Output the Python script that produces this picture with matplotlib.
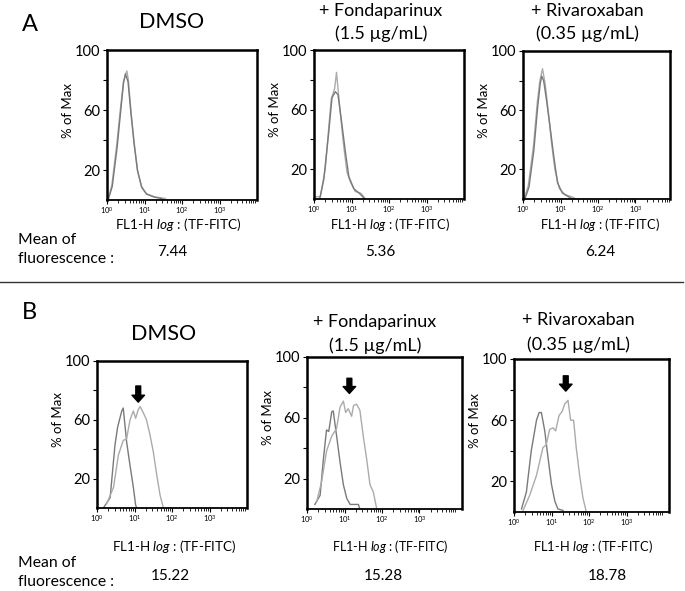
import numpy as np
import matplotlib
matplotlib.use("Agg")
import matplotlib.pyplot as plt
from matplotlib.lines import Line2D
from matplotlib.ticker import LogLocator, NullFormatter

plt.rcParams["font.family"] = ["Lato", "DejaVu Sans"]
plt.rcParams["mathtext.fontset"] = "custom"
plt.rcParams["mathtext.rm"] = "Lato"
plt.rcParams["mathtext.it"] = "Lato:italic"

# ── Data: histogram outlines, x as log10(FL1-H), y as % of Max ───────────────
A_DMSO_X1 = [0.02, 0.13, 0.26, 0.35, 0.44, 0.50, 0.53, 0.57, 0.64, 0.73, 0.82, 0.93, 1.06, 1.29, 1.55, 1.58]
A_DMSO_Y1 = [0, 10, 37, 59, 79, 84, 86, 80, 59, 37, 19, 8, 4, 2, 1, 0]
A_DMSO_X2 = [0.03, 0.14, 0.27, 0.36, 0.44, 0.49, 0.56, 0.63, 0.72, 0.81, 0.92, 1.05, 1.25, 1.45, 1.50]
A_DMSO_Y2 = [0, 9, 35, 58, 78, 84, 79, 60, 38, 20, 9, 4, 2, 1, 0]

A_FONDA_X1 = [0.04, 0.17, 0.30, 0.39, 0.46, 0.55, 0.60, 0.64, 0.70, 0.79, 0.88, 0.97, 1.10, 1.24, 1.33, 1.37]
A_FONDA_Y1 = [1.5, 1.5, 20, 47, 67, 74, 85, 74, 58, 36, 18, 11.5, 5, 4, 1.5, 0]
A_FONDA_X2 = [0.15, 0.26, 0.39, 0.48, 0.57, 0.64, 0.73, 0.84, 0.93, 1.06, 1.20, 1.30, 1.34]
A_FONDA_Y2 = [0, 13, 44, 68, 72, 70, 53, 31, 15, 7, 4, 1.5, 0]

A_RIVA_X1 = [0.03, 0.14, 0.28, 0.38, 0.45, 0.52, 0.59, 0.68, 0.76, 0.85, 0.97, 1.12, 1.35, 1.40]
A_RIVA_Y1 = [0, 9, 36, 65, 80, 88, 78, 58, 38, 20, 7, 3, 1, 0]
A_RIVA_X2 = [0.05, 0.16, 0.29, 0.39, 0.46, 0.50, 0.55, 0.62, 0.71, 0.82, 0.92, 1.05, 1.25, 1.30]
A_RIVA_Y2 = [0, 8, 33, 62, 78, 83, 80, 68, 51, 29, 11, 4, 1, 0]

B_DMSO_X1 = [0.17, 0.35, 0.48, 0.55, 0.66, 0.70, 0.79, 0.88, 0.97, 1.03, 1.06]
B_DMSO_Y1 = [0, 7, 43, 55, 66, 68, 45, 29, 14, 2, 0]
B_DMSO_X2 = [0.26, 0.44, 0.57, 0.70, 0.79, 0.88, 0.97, 1.03, 1.10, 1.15, 1.24, 1.32, 1.41, 1.50, 1.59, 1.68, 1.77]
B_DMSO_Y2 = [3, 14, 36, 46, 47, 60, 66, 61, 67, 69, 64.5, 60, 50, 38.5, 23, 9, 0]

B_FONDA_X1 = [0.21, 0.35, 0.43, 0.52, 0.58, 0.66, 0.70, 0.79, 0.88, 0.97, 1.06, 1.15, 1.37, 1.41]
B_FONDA_Y1 = [3, 9, 31, 52, 51, 64, 64.5, 48, 31, 16, 7, 3, 3, 0]
B_FONDA_X2 = [0.26, 0.39, 0.52, 0.66, 0.79, 0.88, 0.97, 1.03, 1.10, 1.19, 1.24, 1.32, 1.41, 1.50, 1.59, 1.68, 1.77, 1.86]
B_FONDA_Y2 = [5, 18, 38, 48, 53, 67, 71, 63.5, 66, 61, 68, 69, 65, 48, 33, 16, 11, 0]

B_RIVA_X1 = [0.20, 0.33, 0.46, 0.60, 0.67, 0.73, 0.82, 0.91, 1.00, 1.09, 1.17, 1.31]
B_RIVA_Y1 = [2, 13, 40, 60, 65, 65, 53, 35, 18, 7, 2, 1]
B_RIVA_X2 = [0.24, 0.42, 0.60, 0.77, 0.86, 0.95, 1.04, 1.11, 1.20, 1.29, 1.35, 1.44, 1.51, 1.59, 1.66, 1.75, 1.84, 1.93]
B_RIVA_Y2 = [1, 11, 24, 42, 44, 54, 55, 53, 63, 66, 70.5, 73, 60, 60, 42, 24, 9, 0]

# arrows in panel B: log10 position, tip and tail in % of Max
B_ARROW_X = [1.10, 1.13, 1.38]
B_ARROW_TIP = [72, 76, 79]
B_ARROW_TAIL = [83, 86, 89]

TITLES_1 = ["DMSO", "+ Fondaparinux", "+ Rivaroxaban"]
TITLES_2 = ["", "(1.5 µg/mL)", "(0.35 µg/mL)"]
MEANS_A = ["7.44", "5.36", "6.24"]
MEANS_B = ["15.22", "15.28", "18.78"]

Y_TICKS = [20, 40, 60, 80, 100]
Y_TICK_LABELS = ["20", "", "60", "", "100"]
X_TICKS = [1, 10, 100, 1000]
X_TICK_LABELS = [r"$10^{0}$", r"$10^{1}$", r"$10^{2}$", r"$10^{3}$"]

# ── Layout (pixels of a 685x591 canvas) ──────────────────────────────────────
W, H = 685, 591
DARK = "#7a7a7a"
LIGHT = "#ababab"

def fx(x):
    return x / W

def fy(y):
    return 1 - y / H

def draw_hist(box, curves, arrow=None):
    l, t, r, b = box
    ax = fig.add_axes([fx(l), fy(b), (r - l) / W, (b - t) / H])
    for xs, ys, col in curves:
        ax.plot(10 ** np.array(xs), ys, color=col, lw=1.0)
    ax.set_xscale("log")
    ax.set_xlim(1, 10 ** ((r - l) / 37.5))
    ax.set_ylim(0, 100)
    ax.set_yticks(Y_TICKS)
    ax.set_yticklabels(Y_TICK_LABELS)
    ax.set_xticks(X_TICKS)
    ax.set_xticklabels(X_TICK_LABELS)
    ax.xaxis.set_minor_locator(LogLocator(base=10, subs=np.arange(2, 10), numticks=20))
    ax.xaxis.set_minor_formatter(NullFormatter())
    ax.tick_params(axis="y", labelsize=10.5, length=3, width=0.8, pad=2)
    ax.tick_params(axis="x", which="major", labelsize=5.5, length=3, width=0.8, pad=0.8)
    ax.tick_params(axis="x", which="minor", length=2, width=0.6)
    for side in ["top", "right", "left"]:
        ax.spines[side].set_linewidth(1.8)
    ax.spines["bottom"].set_linewidth(1.3)
    ax.set_ylabel("% of Max", fontsize=9.5)
    ax.yaxis.set_label_coords(-33 / (r - l), 0.6)
    if arrow is not None:
        ax_x, tip, tail = arrow
        ax.annotate("", xy=(10 ** ax_x, tip), xytext=(10 ** ax_x, tail),
                    arrowprops=dict(facecolor="black", edgecolor="black",
                                    width=3.5, headwidth=9, headlength=5))
    return ax

fig = plt.figure(figsize=(W / 100, H / 100), dpi=100, facecolor="white")

BOXES_A = [(107, 50, 257, 200), (314, 50, 464, 199), (523, 51, 670, 199)]
BOXES_B = [(97, 361, 247, 508), (307, 357, 462, 509), (514, 359, 669, 512)]

curves_a = [
    [(A_DMSO_X1, A_DMSO_Y1, LIGHT), (A_DMSO_X2, A_DMSO_Y2, DARK)],
    [(A_FONDA_X1, A_FONDA_Y1, LIGHT), (A_FONDA_X2, A_FONDA_Y2, DARK)],
    [(A_RIVA_X1, A_RIVA_Y1, LIGHT), (A_RIVA_X2, A_RIVA_Y2, DARK)],
]
curves_b = [
    [(B_DMSO_X1, B_DMSO_Y1, DARK), (B_DMSO_X2, B_DMSO_Y2, LIGHT)],
    [(B_FONDA_X1, B_FONDA_Y1, DARK), (B_FONDA_X2, B_FONDA_Y2, LIGHT)],
    [(B_RIVA_X1, B_RIVA_Y1, DARK), (B_RIVA_X2, B_RIVA_Y2, LIGHT)],
]

for i in range(3):
    draw_hist(BOXES_A[i], curves_a[i])
    draw_hist(BOXES_B[i], curves_b[i], (B_ARROW_X[i], B_ARROW_TIP[i], B_ARROW_TAIL[i]))

# ── Titles / labels ──────────────────────────────────────────────────────────
def ftext(x, y, s, size, ha="center", **kw):
    fig.text(fx(x), fy(y), s, fontsize=size, ha=ha, va="baseline", **kw)

ftext(22, 31, "A", 17, ha="left")
ftext(22, 319, "B", 17, ha="left")

# (centre x, baseline line1, baseline line2)
TITLE_POS_A = [(172, 28, None), (381, 16, 39), (587, 16, 39)]
TITLE_POS_B = [(164, 340, None), (375, 327, 351), (578, 325, 350)]
XLABEL_POS_A = [(178, 229, 9.8), (390, 229, 9.3), (600, 229, 9.3)]
XLABEL_POS_B = [(174, 551, 9.6), (390, 551, 9.0), (593, 551, 9.3)]
MEAN_POS_A = [(172, 256), (380, 256), (600, 256)]
MEAN_POS_B = [(170, 580), (383, 580), (607, 580)]

for i in range(3):
    for pos in (TITLE_POS_A[i], TITLE_POS_B[i]):
        x, y1, y2 = pos
        ftext(x, y1, TITLES_1[i], 15.5 if i == 0 else 13)
        if y2 is not None:
            ftext(x, y2, TITLES_2[i], 13)
    for x, y, s in (XLABEL_POS_A[i], XLABEL_POS_B[i]):
        ftext(x, y, r"FL1-H $\mathit{log}$ : (TF-FITC)", s)
    ftext(MEAN_POS_A[i][0], MEAN_POS_A[i][1], MEANS_A[i], 11)
    ftext(MEAN_POS_B[i][0], MEAN_POS_B[i][1], MEANS_B[i], 11)

ftext(18, 244, "Mean of", 11.3, ha="left")
ftext(18, 263, "fluorescence :", 11.3, ha="left")
ftext(18, 567, "Mean of", 11.3, ha="left")
ftext(18, 586, "fluorescence :", 11.3, ha="left")

fig.add_artist(Line2D([0, fx(683)], [fy(282), fy(282)], color="#333333", lw=1.0))

fig.savefig("out.png", dpi=100, facecolor="white")
